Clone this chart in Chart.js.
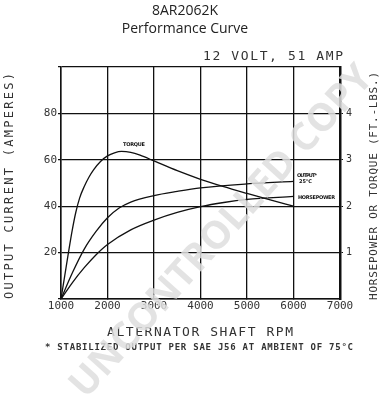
<!DOCTYPE html>
<html>
<head>
<meta charset="utf-8">
<script src="https://cdn.jsdelivr.net/npm/chart.js@4"></script>
<style>
  html, body { margin: 0; padding: 0; background: #fff; }
  #grafico_wrap { width: 383px; height: 400px; position: relative; }
</style>
</head>
<body>
<div id="grafico_wrap"><canvas id="myChartCurva"></canvas></div>
<script>
// valores (rpm do eixo do alternador)
const rpmTorque = [1000, 1080, 1160, 1240, 1320, 1400, 1500, 1600, 1700, 1850, 2000, 2150, 2300, 2500, 2700, 3000, 3500, 4000, 4500, 5000, 5500, 6000];
const torque    = [0, 10, 20, 29.5, 37.5, 43.5, 48.5, 52.5, 55.7, 59.3, 61.7, 63, 63.6, 63.2, 62, 59.5, 55.3, 51.6, 48.4, 45.5, 42.7, 40];

const rpmOutput = [1000, 1250, 1500, 1750, 2000, 2250, 2500, 3000, 3500, 4000, 5000, 6000];
const output    = [0, 11.5, 21.5, 29, 35, 39.2, 41.8, 44.6, 46.4, 47.9, 49.6, 50.7];

const rpmHp     = [1000, 1250, 1500, 1750, 2000, 2500, 3000, 3500, 4000, 4500, 5000, 6000];
const hp        = [0, 7.2, 13.5, 19, 23.5, 29.8, 34, 37.3, 39.8, 41.6, 42.9, 44.2];

const xTicks     = [1000, 2000, 3000, 4000, 5000, 6000, 7000];
const ampTicks   = [20, 40, 60, 80];
const torqueTicks = [1, 2, 3, 4];

function pontos(xs, ys) {
    var lista = []
    for (let i = 0; i < xs.length; i++) {
        lista.push({ x: xs[i], y: ys[i] })
    }
    return lista
}

// texto com espaçamento ajustado a uma largura
function textoLargo(ctx, txt, x, y, largura, font, align) {
    ctx.font = font
    ctx.letterSpacing = '0px'
    var w = ctx.measureText(txt).width
    var esp = (largura - w) / (txt.length - 1)
    ctx.letterSpacing = esp + 'px'
    ctx.textAlign = 'left'
    var x0 = x
    if (align == 'center') x0 = x - largura / 2
    if (align == 'right') x0 = x - largura
    ctx.fillText(txt, x0, y)
    ctx.letterSpacing = '0px'
}

const textos = {
    id: 'textos',
    afterDraw(chart) {
        const ctx = chart.ctx
        ctx.save()
        ctx.fillStyle = '#222'
        ctx.textBaseline = 'middle'
        ctx.textAlign = 'center'
        ctx.font = '14px "Open Sans"'
        ctx.fillText('8AR2062K', 185, 11)
        ctx.fillText('Performance Curve', 185, 29)

        ctx.fillStyle = '#333'
        textoLargo(ctx, '12 VOLT, 51 AMP', 343, 57, 140, '13px "DejaVu Sans Mono"', 'right')
        textoLargo(ctx, 'ALTERNATOR SHAFT RPM', 200, 333, 186, '13px "DejaVu Sans Mono"', 'center')
        textoLargo(ctx, '* STABILIZED OUTPUT PER SAE J56 AT AMBIENT OF 75°C', 199, 348, 308, 'bold 9px "DejaVu Sans Mono"', 'center')

        ctx.save()
        ctx.translate(10, 186)
        ctx.rotate(-Math.PI / 2)
        textoLargo(ctx, 'OUTPUT CURRENT (AMPERES)', 0, 0, 226, '12px "DejaVu Sans Mono"', 'center')
        ctx.restore()

        ctx.save()
        ctx.translate(374, 186)
        ctx.rotate(-Math.PI / 2)
        textoLargo(ctx, 'HORSEPOWER OR TORQUE (FT.-LBS.)', 0, 0, 228, '11px "DejaVu Sans Mono"', 'center')
        ctx.restore()

        // rótulos das curvas
        ctx.fillStyle = '#111'
        textoLargo(ctx, 'TORQUE', 123, 145, 22, 'bold 5px "DejaVu Sans"', 'left')
        textoLargo(ctx, 'OUTPUT*', 297, 175.5, 20, 'bold 5px "DejaVu Sans"', 'left')
        textoLargo(ctx, '25°C', 299, 182, 13, 'bold 5px "DejaVu Sans"', 'left')
        textoLargo(ctx, 'HORSEPOWER', 298, 197.5, 37, 'bold 5px "DejaVu Sans"', 'left')

        // marca d'água
        ctx.save()
        ctx.translate(222, 232)
        ctx.rotate(-48 * Math.PI / 180)
        ctx.font = 'bold 40px "Open Sans"'
        var w = ctx.measureText('UNCONTROLLED COPY').width
        var tam = 40 * 432 / w
        ctx.font = 'bold ' + tam + 'px "Open Sans"'
        ctx.fillStyle = 'rgba(222,222,222,0.85)'
        ctx.textAlign = 'center'
        ctx.fillText('UNCONTROLLED COPY', 0, 0)
        ctx.restore()

        ctx.restore()
    }
}

const dataCurva = {
    datasets: [{
        label: 'Torque',
        data: pontos(rpmTorque, torque),
    }, {
        label: 'Output',
        data: pontos(rpmOutput, output),
    }, {
        label: 'Horsepower',
        data: pontos(rpmHp, hp),
    }].map(d => Object.assign(d, {
        borderColor: '#111',
        borderWidth: 1.3,
        pointRadius: 0,
        cubicInterpolationMode: 'monotone',
        fill: false,
        yAxisID: 'y'
    }))
};

const configCurva = {
    type: 'line',
    data: dataCurva,
    options: {
        responsive: true,
        maintainAspectRatio: false,
        animation: false,
        devicePixelRatio: 1,
        layout: { padding: { top: 67, left: 0, right: 0, bottom: 0 } },
        plugins: { legend: { display: false }, tooltip: { enabled: false } },
        scales: {
            x: {
                type: 'linear',
                min: 1000,
                max: 7000,
                afterBuildTicks: (s) => { s.ticks = xTicks.map(v => ({ value: v })) },
                afterFit: (s) => { s.height = 101 },
                ticks: {
                    color: '#333', font: { family: 'DejaVu Sans Mono', size: 11 }, padding: 1, maxRotation: 0,
                    callback: (v) => String(v)
                },
                grid: { color: '#111', lineWidth: 1.3, tickLength: 0 },
                border: { color: '#111', width: 1.5 }
            },
            y: {
                position: 'left',
                min: 0,
                max: 100,
                afterBuildTicks: (s) => { s.ticks = [0].concat(ampTicks, [100]).map(v => ({ value: v })) },
                afterFit: (s) => { s.width = 61 },
                ticks: {
                    color: '#333', font: { family: 'DejaVu Sans Mono', size: 11 }, padding: 1,
                    callback: (v) => ampTicks.includes(v) ? String(v) : ''
                },
                grid: { color: '#111', lineWidth: 1.3, tickLength: 3 },
                border: { color: '#111', width: 1.5 }
            },
            y1: {
                position: 'right',
                min: 0,
                max: 5,
                afterBuildTicks: (s) => { s.ticks = torqueTicks.map(v => ({ value: v })) },
                afterFit: (s) => { s.width = 43 },
                ticks: { color: '#333', font: { family: 'DejaVu Sans Mono', size: 10 }, padding: 3 },
                grid: { drawOnChartArea: false, color: '#111', tickLength: 3 },
                border: { color: '#111', width: 2.5 }
            }
        }
    },
    plugins: [textos]
};

const myChartCurva = new Chart(
    document.getElementById('myChartCurva'),
    configCurva
);
</script>
</body>
</html>
